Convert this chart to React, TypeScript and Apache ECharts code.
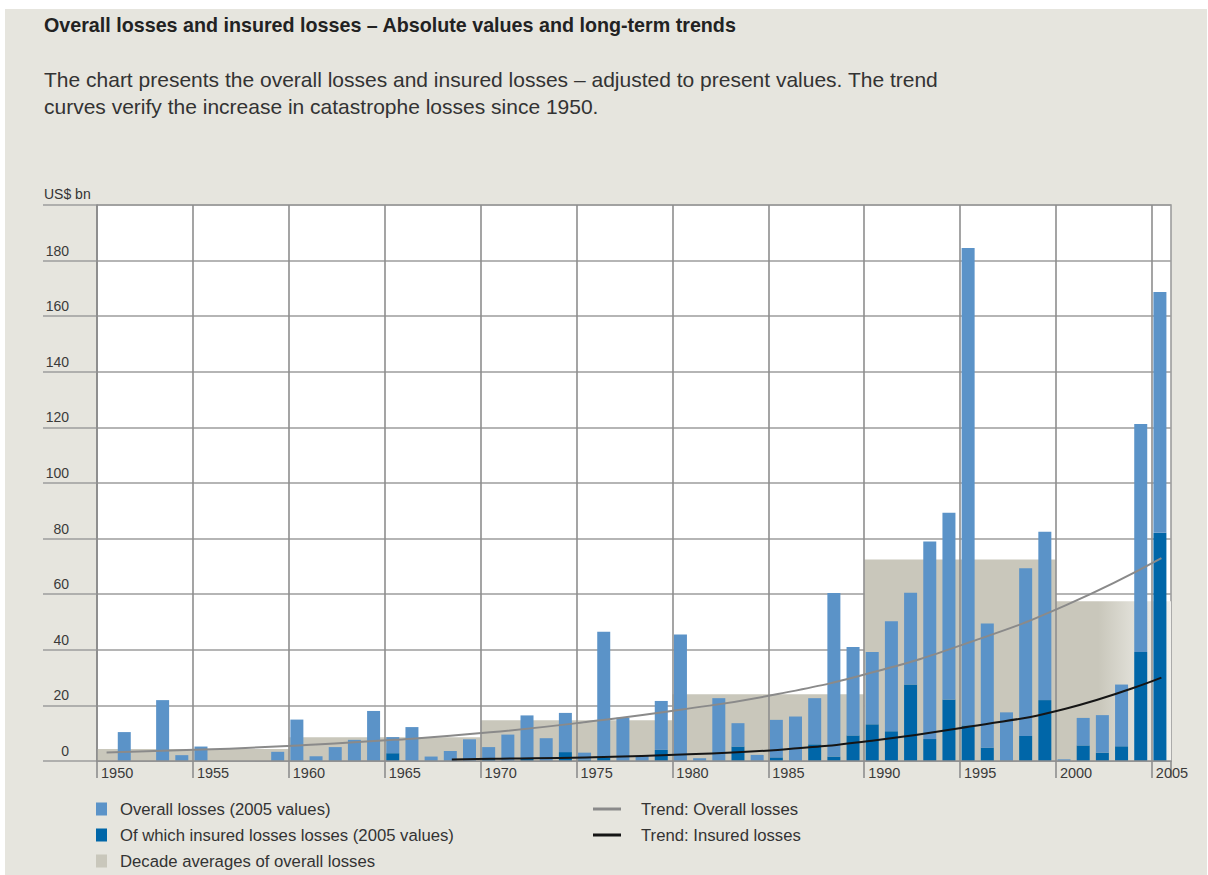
import React, { useEffect, useRef } from "react";
import * as echarts from "echarts";

const FONT = "'Liberation Sans', Arial, sans-serif";

// Years 1950..2005 (category axis)
const years: string[] = Array.from({ length: 56 }, (_, i) => String(1950 + i));

// Overall losses (2005 values), US$ bn
const overall: number[] = [
  0, 10.4, 0, 21.9, 2.1, 5.2, 0, 0, 0, 3.3,
  14.9, 1.7, 5.0, 7.6, 18.0, 8.6, 12.2, 1.6, 3.6, 7.8,
  5.0, 9.5, 16.4, 8.2, 17.3, 3.0, 46.5, 15.6, 1.8, 21.6,
  45.5, 1.0, 22.6, 13.6, 2.2, 14.8, 16.0, 22.6, 60.4, 41.0,
  39.2, 50.3, 60.5, 79.0, 89.3, 184.5, 49.5, 17.5, 69.3, 82.5,
  0.6, 15.5, 16.5, 27.5, 121.2, 168.7,
];

// Of which insured losses (2005 values), US$ bn
const insured: number[] = [
  0, 0, 0, 0, 0, 0, 0, 0, 0, 0,
  0, 0, 0, 0, 0, 2.8, 0, 0, 0, 0,
  1.0, 0, 0.8, 0, 3.2, 0.5, 1.2, 0, 0, 4.0,
  0, 0, 0, 5.2, 0, 1.3, 0, 6.0, 1.6, 9.2,
  13.2, 10.7, 27.5, 7.9, 22.1, 12.8, 4.8, 0, 9.0, 21.9,
  0, 5.6, 3.0, 5.3, 39.2, 82.1,
];

// Decade averages of overall losses
const decadeStart: number[] = [1950, 1960, 1970, 1980, 1990, 2000];
const decadeAvg: number[] = [4.3, 8.5, 14.7, 24.0, 72.5, 57.5];

// Trend curves (read at selected years)
const trendOverallYears: number[] = [1950, 1955, 1960, 1965, 1970, 1975, 1980, 1985, 1990, 1995, 2000, 2005];
const trendOverallValues: number[] = [3.1, 4.1, 5.6, 7.6, 10.3, 14.0, 18.5, 24.1, 32.0, 42.7, 56.0, 73.0];
const trendInsuredYears: number[] = [1968, 1970, 1975, 1980, 1985, 1990, 1995, 2000, 2005];
const trendInsuredValues: number[] = [0.5, 0.8, 1.3, 2.3, 4.0, 7.4, 12.4, 18.8, 30.0];

const yTicks = { min: 0, max: 200, interval: 20 };
const xTicks = { min: 1950, max: 2006, interval: 5 };

const LIGHT = "#5b93c8";
const DARK = "#0066a8";
const BEIGE = "#c9c7bb";
const GRID_V = "#8e8e8e";
const GRID_H = "#9d9d9d";

function sparse(ys: number[], vs: number[]): (number | null)[] {
  const out: (number | null)[] = years.map(() => null);
  ys.forEach((y, i) => {
    out[y - 1950] = vs[i];
  });
  return out;
}

export default function App() {
  const ref = useRef<HTMLDivElement>(null);
  useEffect(() => {
    const chart = echarts.init(ref.current!, null, { renderer: "svg" });
    const decades = decadeStart.map((s, i) => [s, Math.min(s + 10, xTicks.max), decadeAvg[i]]);
    const vLineCount = Math.floor((2005 - xTicks.min) / xTicks.interval) + 1;
    const vLineColors: string[] = [
      ...Array.from({ length: vLineCount }, () => GRID_V),
      "rgba(0,0,0,0)",
    ];
    const legendText = {
      fontSize: 16.7,
      color: "#333",
      lineHeight: 26,
      fontFamily: FONT,
    };
    const option: any = {
      animation: false,
      backgroundColor: "#ffffff",
      textStyle: { fontFamily: FONT },
      graphic: [
        {
          type: "rect",
          z: -100,
          silent: true,
          shape: { x: 5, y: 9, width: 1202, height: 866 },
          style: { fill: "#e6e5de" },
        },
        {
          type: "text",
          left: 44,
          top: 187,
          z: 10,
          style: { text: "US$ bn", fontSize: 14, fill: "#333", fontFamily: FONT },
        },
      ],
      title: [
        {
          text: "Overall losses and insured losses – Absolute values and long-term trends",
          left: 44,
          top: 15,
          padding: 0,
          textStyle: { fontSize: 19.7, fontWeight: "bold", color: "#222", fontFamily: FONT },
        },
        {
          text:
            "The chart presents the overall losses and insured losses – adjusted to present values. The trend\ncurves verify the increase in catastrophe losses since 1950.",
          left: 44,
          top: 66,
          padding: 0,
          textStyle: { fontSize: 21, lineHeight: 27, fontWeight: "normal", color: "#333", fontFamily: FONT },
        },
      ],
      legend: [
        {
          left: 96,
          top: 796,
          height: 90,
          orient: "vertical",
          padding: 0,
          itemWidth: 11,
          itemHeight: 13,
          itemGap: 0,
          selectedMode: false,
          textStyle: { ...legendText, padding: [0, 0, 0, 8] },
          data: [
            { name: "Overall losses (2005 values)", icon: "rect" },
            { name: "Of which insured losses losses (2005 values)", icon: "rect" },
            { name: "Decade averages of overall losses", icon: "rect" },
          ],
        },
        {
          left: 593,
          top: 796,
          orient: "vertical",
          padding: 0,
          itemWidth: 28,
          itemHeight: 3,
          itemGap: 0,
          selectedMode: false,
          textStyle: { ...legendText, padding: [0, 0, 0, 15] },
          data: [
            { name: "Trend: Overall losses", icon: "rect" },
            { name: "Trend: Insured losses", icon: "rect" },
          ],
        },
      ],
      grid: {
        left: 97,
        right: 37,
        top: 205,
        bottom: 114,
        show: true,
        backgroundColor: "#ffffff",
        borderColor: GRID_H,
        borderWidth: 1.6,
      },
      xAxis: [
        {
          type: "category",
          data: years,
          boundaryGap: true,
          show: false,
          position: "bottom",
        },
        {
          type: "value",
          min: xTicks.min,
          max: xTicks.max,
          interval: xTicks.interval,
          position: "bottom",
          z: 3,
          axisLine: { show: true, lineStyle: { color: GRID_V, width: 1.6 } },
          axisTick: { show: true, length: 17, lineStyle: { color: GRID_V, width: 1.6 } },
          axisLabel: {
            show: true,
            align: "left",
            margin: 4,
            padding: [0, 0, 0, 4],
            fontSize: 14.5,
            color: "#3a3a3a",
            fontFamily: FONT,
            formatter: (v: number) => (v > 2005 ? "" : String(v)),
          },
          splitLine: { show: true, lineStyle: { color: vLineColors, width: 1.6 } },
        },
      ],
      yAxis: {
        type: "value",
        min: yTicks.min,
        max: yTicks.max,
        interval: yTicks.interval,
        axisLine: { show: true, lineStyle: { color: GRID_V, width: 1.6 } },
        axisTick: { show: true, length: 54, lineStyle: { color: GRID_H, width: 1.6 } },
        axisLabel: {
          align: "right",
          verticalAlign: "bottom",
          margin: 28,
          padding: [0, 0, 3, 0],
          fontSize: 14,
          color: "#3a3a3a",
          fontFamily: FONT,
          formatter: (v: number) => (v >= 200 ? "" : String(v)),
        },
        splitLine: { show: true, lineStyle: { color: GRID_H, width: 1.6 } },
      },
      series: [
        {
          type: "custom",
          name: "Decade averages of overall losses",
          xAxisIndex: 1,
          yAxisIndex: 0,
          z: 1,
          silent: true,
          itemStyle: { color: BEIGE },
          data: decades,
          renderItem: (params: any, api: any) => {
            const p0 = api.coord([api.value(0), api.value(2)]);
            const p1 = api.coord([api.value(1), 0]);
            const last = params.dataIndex === decades.length - 1;
            const fill = last
              ? new echarts.graphic.LinearGradient(0, 0, 1, 0, [
                  { offset: 0, color: BEIGE },
                  { offset: 0.37, color: BEIGE },
                  { offset: 0.72, color: "#e4e3dc" },
                  { offset: 1, color: "#f1f0ec" },
                ])
              : BEIGE;
            return {
              type: "rect",
              shape: { x: p0[0], y: p0[1], width: p1[0] - p0[0], height: p1[1] - p0[1] },
              style: { fill },
            };
          },
        },
        {
          type: "bar",
          name: "Of which insured losses losses (2005 values)",
          xAxisIndex: 0,
          stack: "loss",
          barWidth: 13,
          barGap: 0,
          z: 2,
          color: DARK,
          itemStyle: { color: DARK },
          data: insured,
        },
        {
          type: "bar",
          name: "Overall losses (2005 values)",
          xAxisIndex: 0,
          stack: "loss",
          barWidth: 13,
          barGap: 0,
          z: 2,
          color: LIGHT,
          itemStyle: { color: LIGHT },
          data: overall.map((v, i) => Math.max(0, +(v - insured[i]).toFixed(2))),
        },
        {
          type: "bar",
          name: "pad",
          xAxisIndex: 0,
          stack: "pad",
          barWidth: 3,
          barGap: 0,
          silent: true,
          itemStyle: { color: "transparent" },
          data: years.map(() => null),
        },
        {
          type: "line",
          name: "Trend: Overall losses",
          xAxisIndex: 0,
          z: 5,
          smooth: true,
          connectNulls: true,
          showSymbol: false,
          color: "#8a8a8a",
          lineStyle: { color: "#8a8a8a", width: 2 },
          data: sparse(trendOverallYears, trendOverallValues),
        },
        {
          type: "line",
          name: "Trend: Insured losses",
          xAxisIndex: 0,
          z: 5,
          smooth: true,
          connectNulls: true,
          showSymbol: false,
          color: "#151515",
          lineStyle: { color: "#151515", width: 2 },
          data: sparse(trendInsuredYears, trendInsuredValues),
        },
      ],
    };
    chart.setOption(option);
    return () => chart.dispose();
  }, []);
  return (
    <div
      ref={ref}
      style={{ position: "absolute", left: 0, top: 0, width: 1208, height: 875 }}
    />
  );
}
